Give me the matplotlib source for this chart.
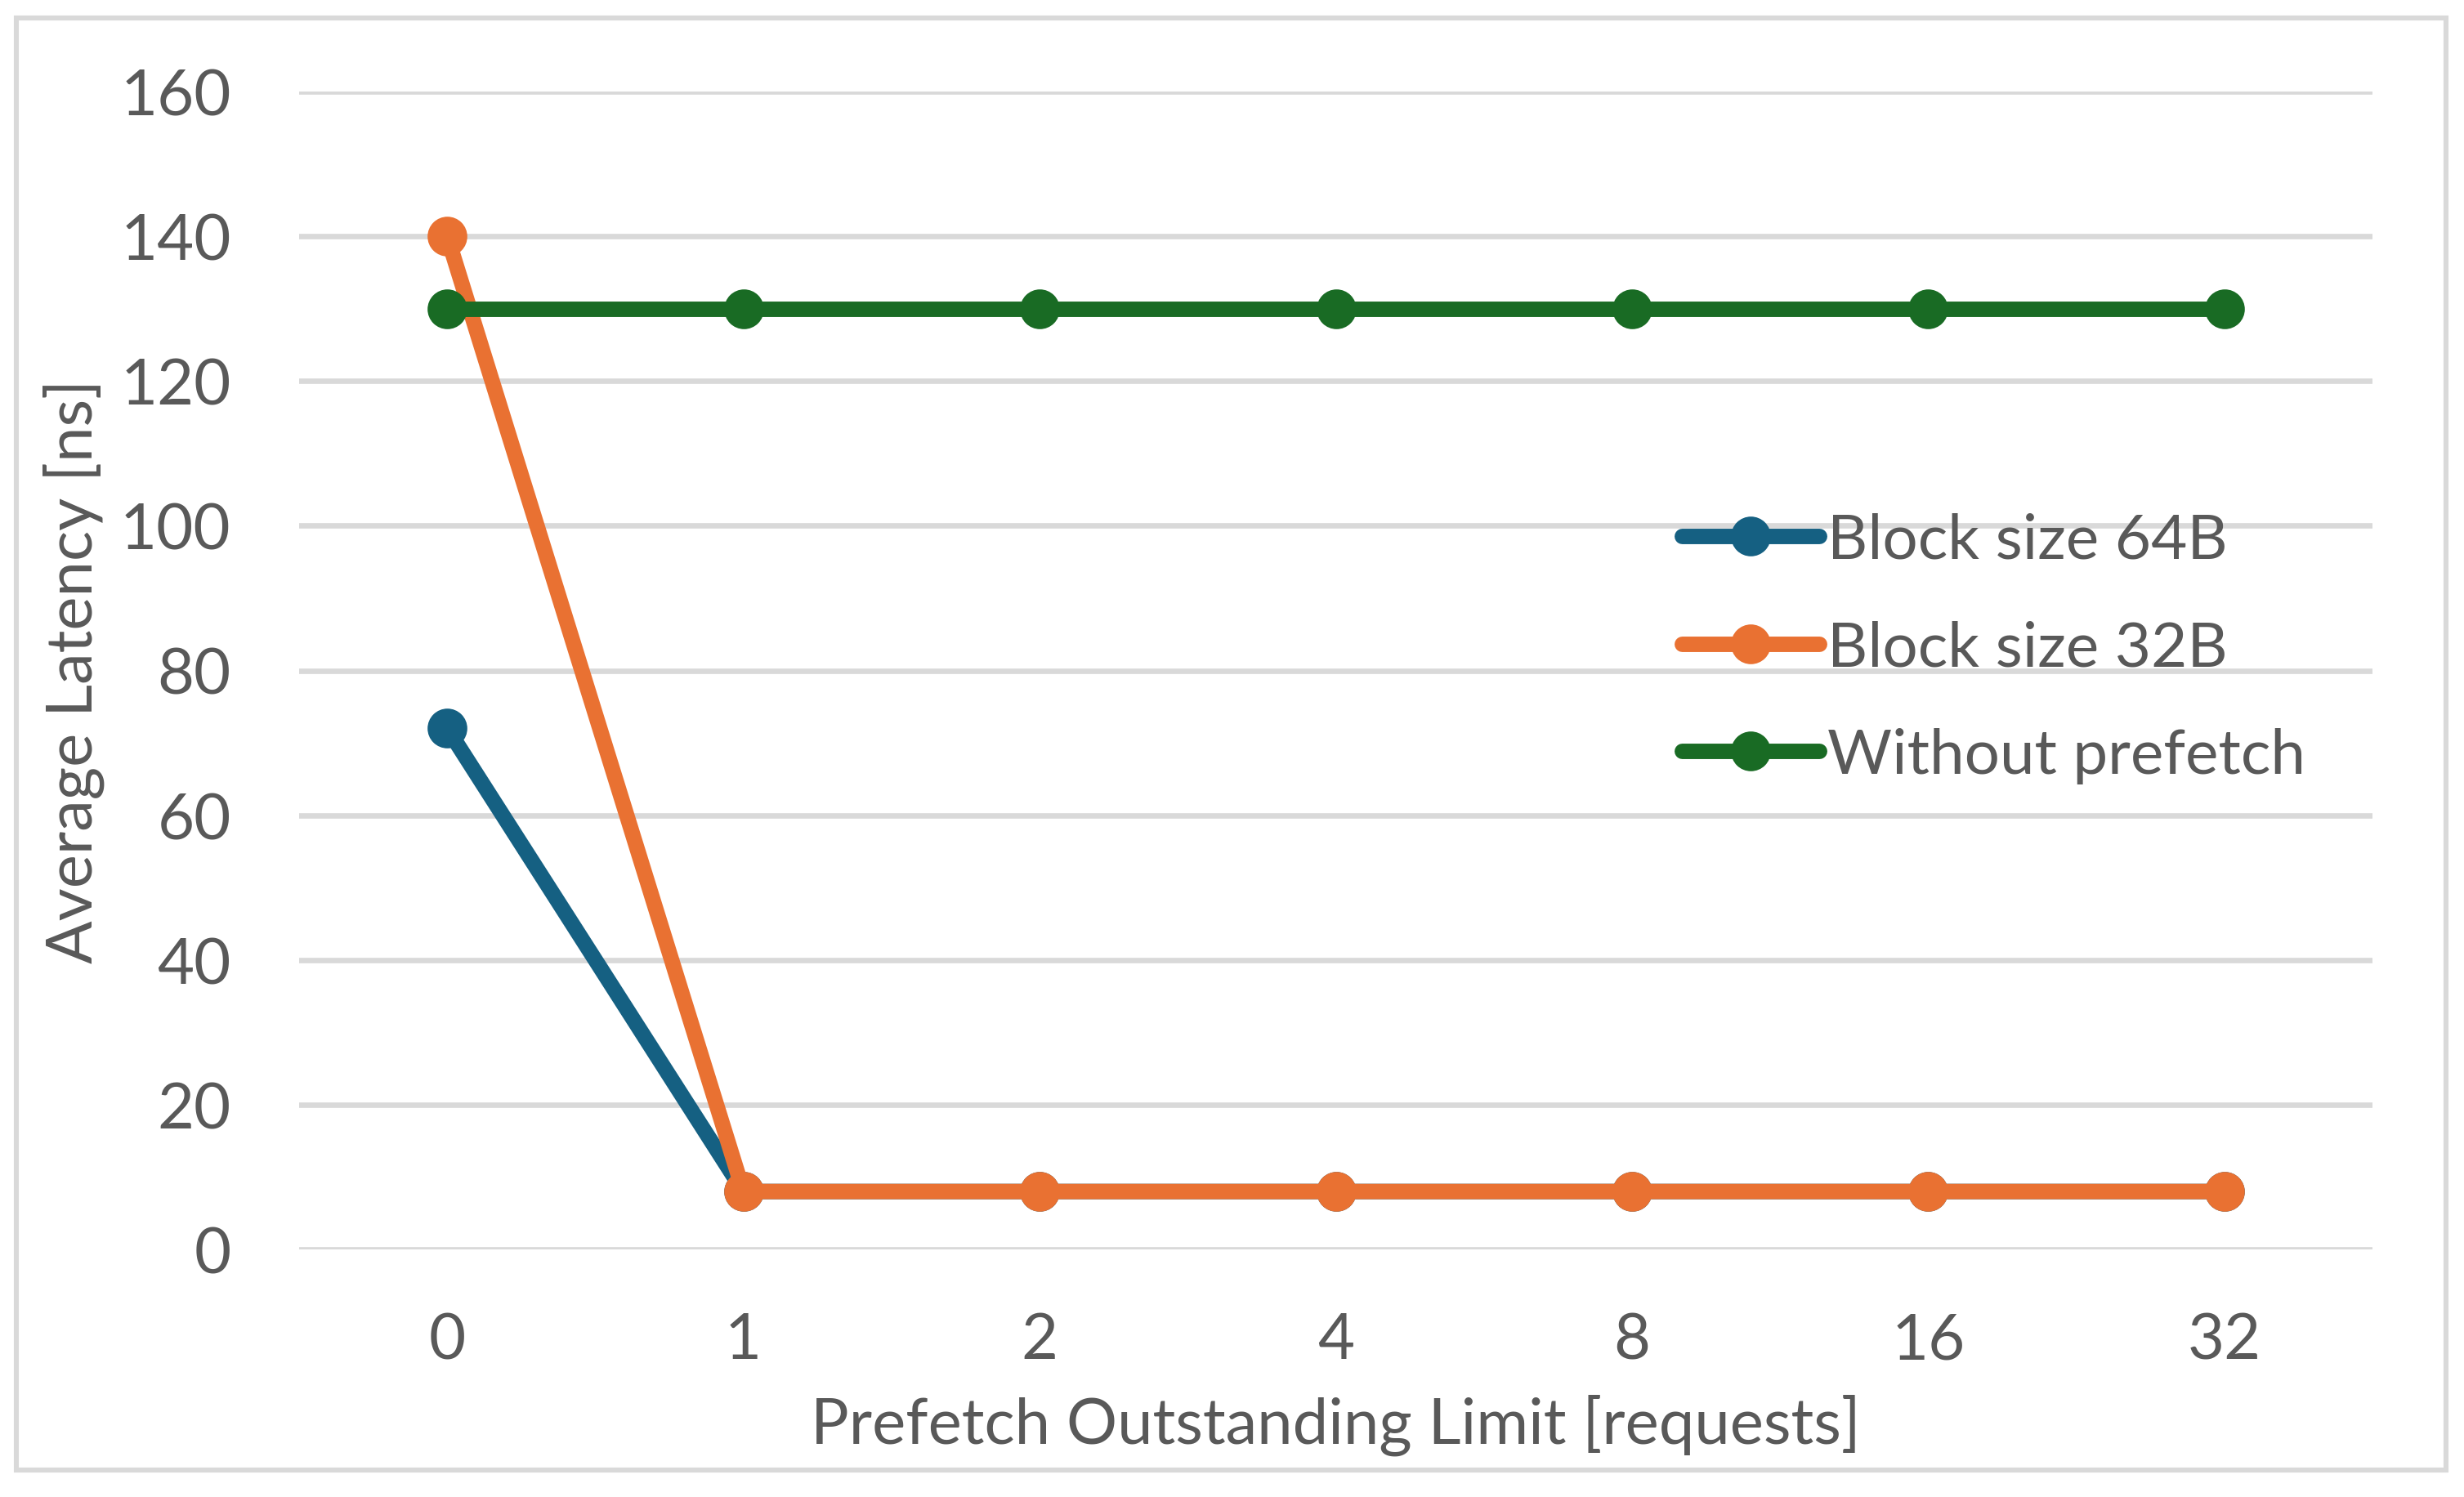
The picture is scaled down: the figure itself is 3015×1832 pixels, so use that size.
import matplotlib.pyplot as plt
from matplotlib.patches import Rectangle

# data
limits = ['0', '1', '2', '4', '8', '16', '32']
block_64 = [72, 8, 8, 8, 8, 8, 8]
block_32 = [140, 8, 8, 8, 8, 8, 8]
no_prefetch = [130, 130, 130, 130, 130, 130, 130]

TEXT = '#595959'
GRID = '#D9D9D9'

plt.rcParams['font.family'] = ['Lato', 'DejaVu Sans']
plt.rcParams['font.size'] = 28

W, H = 3015, 1833
fig = plt.figure(figsize=(W / 200, H / 200), dpi=200)
ax = fig.add_axes([366 / W, 1 - 1530 / H, (2903 - 366) / W, (1530 - 113) / H])

x = range(len(limits))
series = [
    (block_64, '#156082', 'Block size 64B'),
    (block_32, '#E97132', 'Block size 32B'),
    (no_prefetch, '#196B24', 'Without prefetch'),
]
for values, color, label in series:
    ax.plot(x, values, color=color, lw=6.8, marker='o', ms=16.5,
            solid_joinstyle='round', solid_capstyle='round', label=label,
            clip_on=False, zorder=3)

ax.set_xlim(-0.5, len(limits) - 0.5)
ax.set_ylim(0, 160)
ax.set_yticks(range(0, 161, 20))
ax.set_xticks(list(x))
ax.set_xticklabels(limits)
ax.grid(axis='y', color=GRID, lw=2.4)
ax.set_axisbelow(True)
for s in ax.spines.values():
    s.set_visible(False)
ax.tick_params(length=0, colors=TEXT, labelsize=28)
ax.tick_params(axis='y', pad=30)
ax.tick_params(axis='x', pad=27.5)

ax.set_xlabel('Prefetch Outstanding Limit [requests]', color=TEXT, fontsize=28, labelpad=10.5)
ax.set_ylabel('Average Latency [ns]', color=TEXT, fontsize=28, labelpad=7)

leg = ax.legend(loc='center left', bbox_to_anchor=(2058 / W, 1 - 794 / H),
                bbox_transform=fig.transFigure, frameon=False, borderpad=0,
                borderaxespad=0, handlelength=2.2, handletextpad=0.13,
                labelspacing=0.82, fontsize=27.5)
for t in leg.get_texts():
    t.set_color(TEXT)

fig.patches.append(Rectangle((20 / W, 1 - 1800 / H), (2993 - 20) / W, (1800 - 23) / H,
                             transform=fig.transFigure, fill=False, edgecolor=GRID, lw=2.2))

fig.savefig('out.png', dpi=200, facecolor='white')
